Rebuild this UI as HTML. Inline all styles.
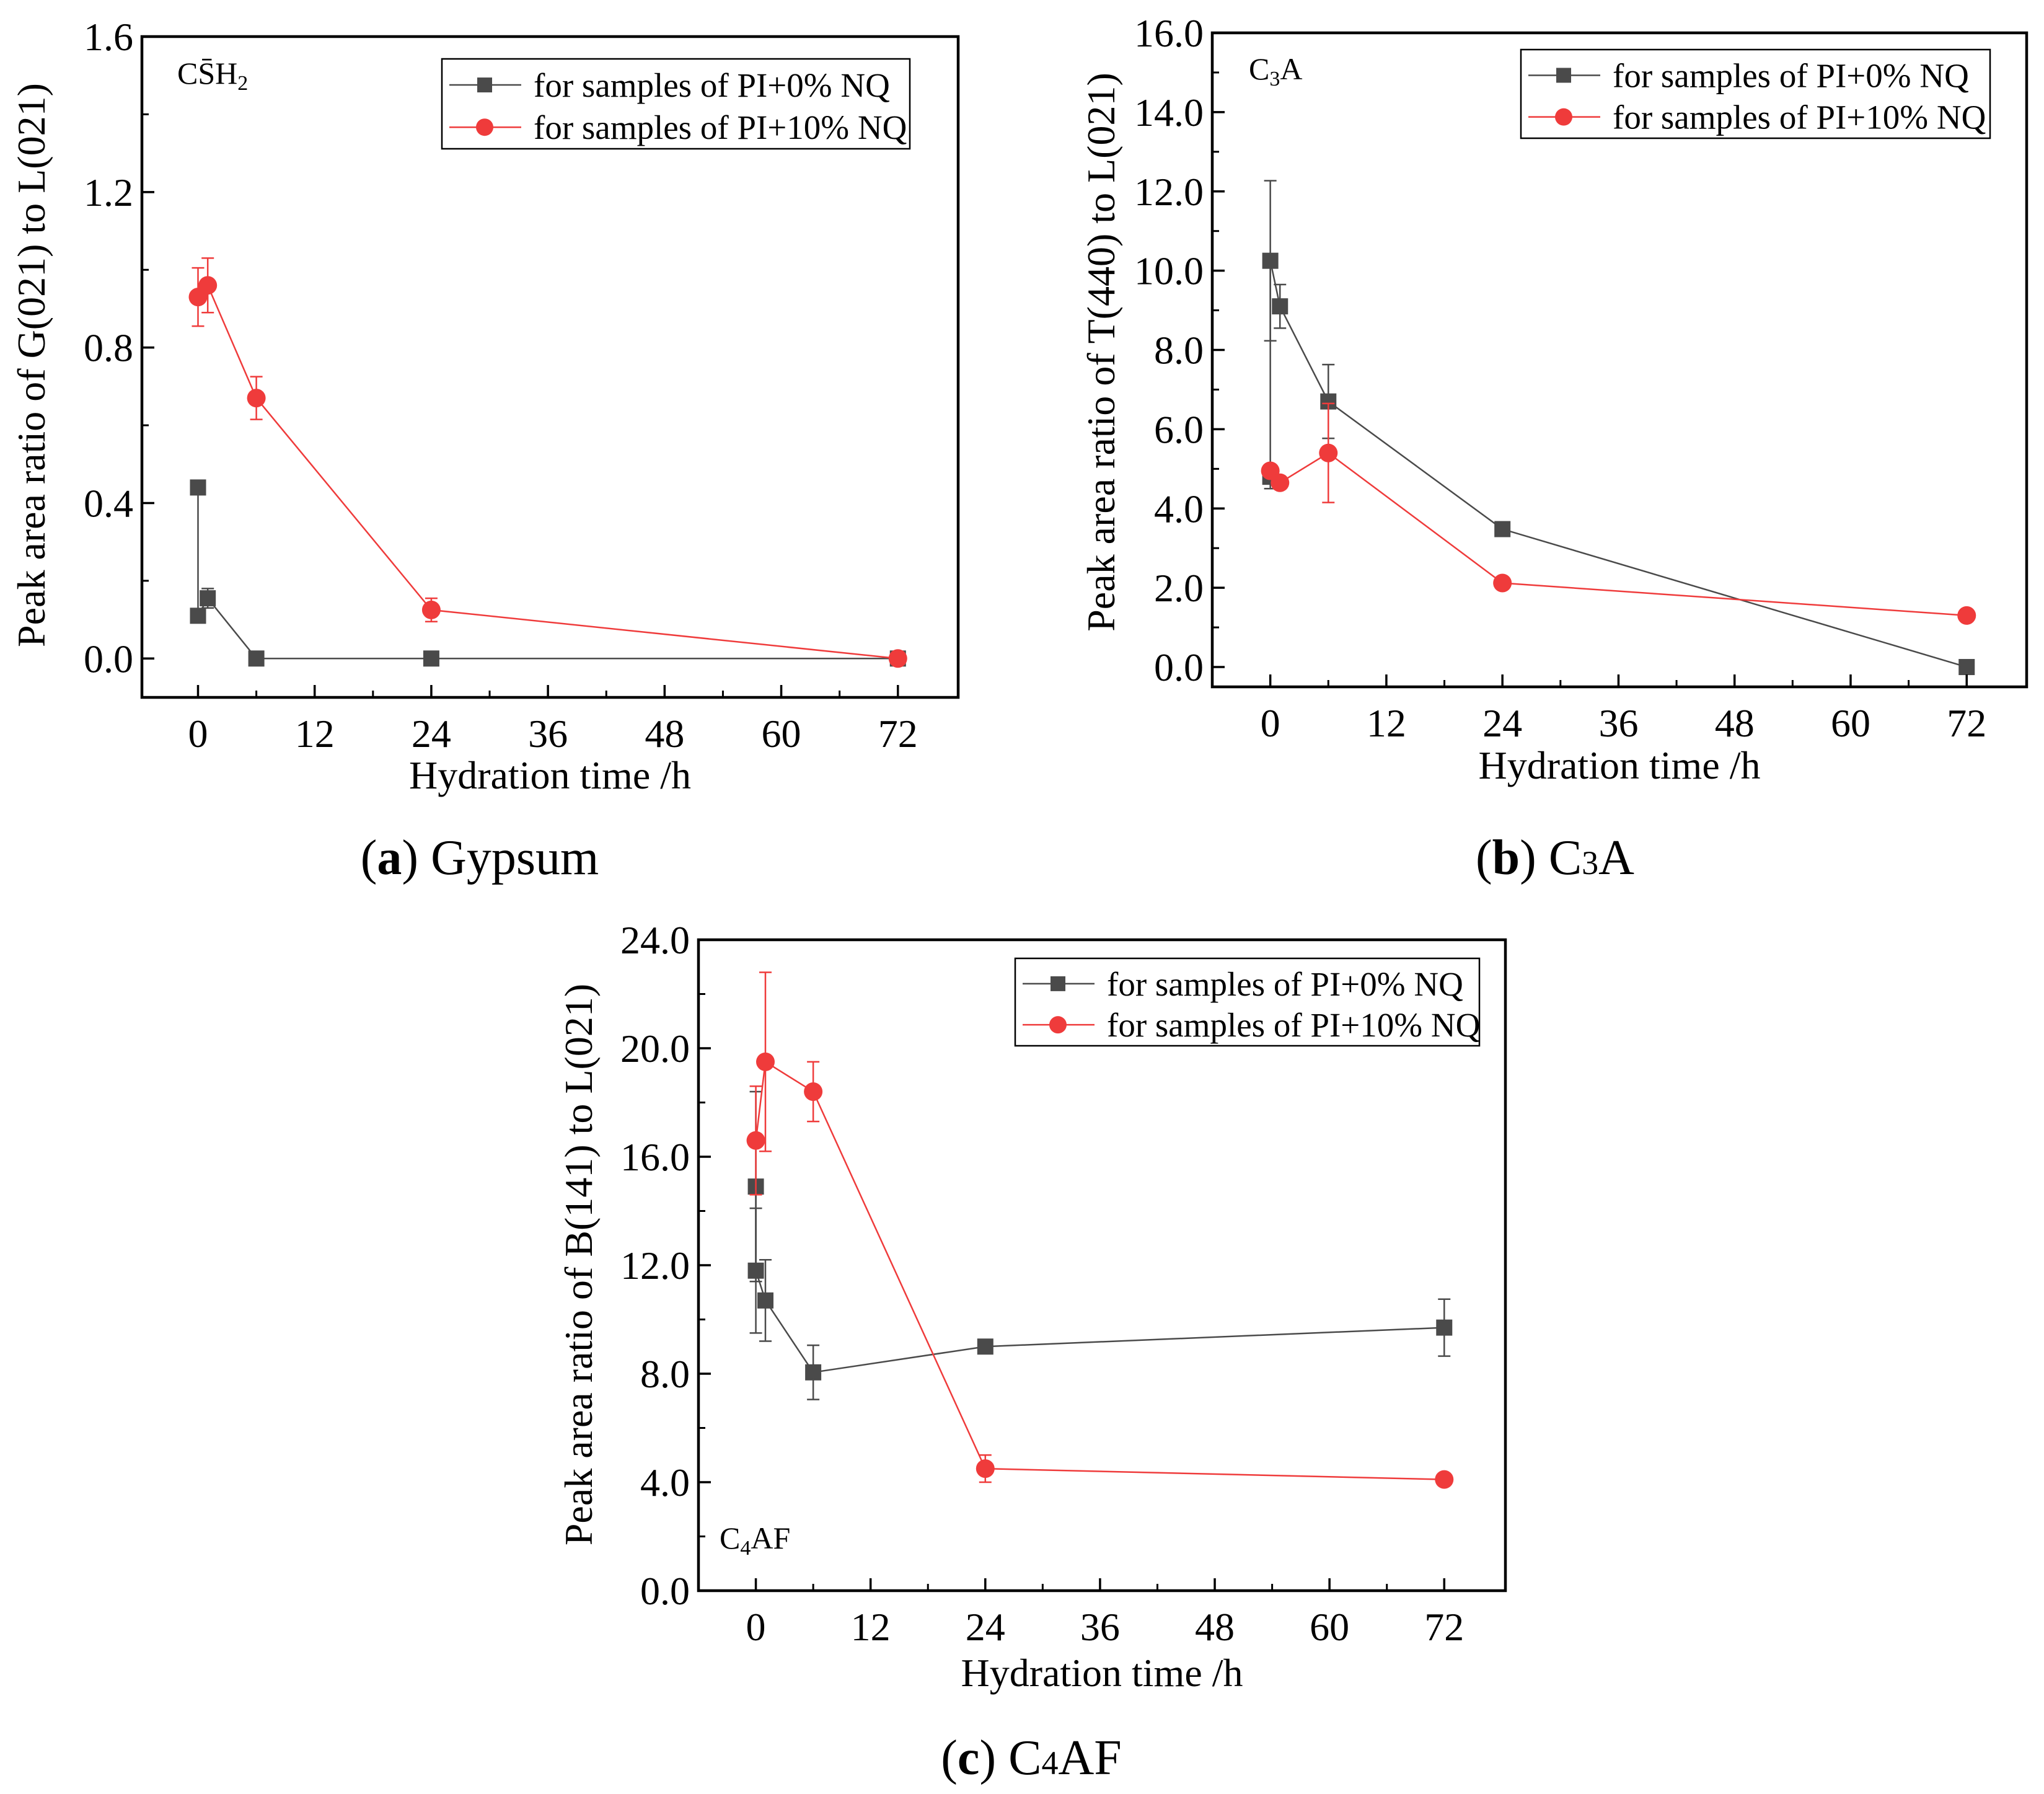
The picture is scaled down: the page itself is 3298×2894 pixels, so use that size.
<!DOCTYPE html>
<html><head><meta charset="utf-8"><style>
html,body{margin:0;padding:0;background:#fff}
svg{display:block}
svg text{font-family:"Liberation Serif","DejaVu Serif",serif}
</style></head><body>
<svg id="fig" width="3298" height="2894" viewBox="0 0 3298 2894" xmlns="http://www.w3.org/2000/svg" font-family="Liberation Serif, serif"></svg>
<script>
// ---- Shared x data ----
const xTicks = [0, 12, 24, 36, 48, 60, 72];
// ---- Panel (a) Gypsum ----
const aBlackX = [0, 0, 1, 6, 24, 72];
const aBlackY = [0.44, 0.11, 0.155, 0, 0, 0];
const aBlackE = [0, 0.015, 0.025, 0, 0, 0];
const aRedX = [0, 1, 6, 24, 72];
const aRedY = [0.93, 0.96, 0.67, 0.125, 0];
const aRedE = [0.075, 0.07, 0.055, 0.03, 0];
const aYTicks = [0.0, 0.4, 0.8, 1.2, 1.6];
const aYLabels = ["0.0", "0.4", "0.8", "1.2", "1.6"];
// ---- Panel (b) C3A ----
const bBlackX = [0, 0, 1, 6, 24, 72];
const bBlackY = [4.8, 10.25, 9.1, 6.7, 3.48, 0];
const bBlackE = [0.3, 2.02, 0.55, 0.93, 0, 0];
const bRedX = [0, 1, 6, 24, 72];
const bRedY = [4.95, 4.65, 5.4, 2.12, 1.3];
const bRedE = [0.15, 0, 1.25, 0, 0];
const bYTicks = [0, 2, 4, 6, 8, 10, 12, 14, 16];
const bYLabels = ["0.0", "2.0", "4.0", "6.0", "8.0", "10.0", "12.0", "14.0", "16.0"];
// ---- Panel (c) C4AF ----
const cBlackX = [0, 0, 1, 6, 24, 72];
const cBlackY = [14.9, 11.8, 10.7, 8.05, 9.0, 9.7];
const cBlackE = [3.5, 2.3, 1.5, 1.0, 0, 1.05];
const cRedX = [0, 1, 6, 24, 72];
const cRedY = [16.6, 19.5, 18.4, 4.5, 4.1];
const cRedE = [2.0, 3.3, 1.1, 0.5, 0];
const cYTicks = [0, 4, 8, 12, 16, 20, 24];
const cYLabels = ["0.0", "4.0", "8.0", "12.0", "16.0", "20.0", "24.0"];

const NS = "http://www.w3.org/2000/svg";
const svg = document.getElementById("fig");
const BLACK = "#4a4a4a", RED = "#ef3b3b";
const FONT = '"Liberation Serif", "DejaVu Serif", serif';
function mk(tag, attrs, parent, text) {
  const e = document.createElementNS(NS, tag);
  for (const k in attrs) e.setAttribute(k, attrs[k]);
  if (tag === "text") e.setAttribute("style", "font-family:" + FONT);
  if (text !== undefined) e.textContent = text;
  (parent || svg).appendChild(e);
  return e;
}

function panel(id, box, xr, yr, yTicks, yLabels, minorY, series, legend, note, ytitle, xtitleY, caption) {
  const g = mk("g", {});
  
  
  const X = v => box.l + (v - xr[0]) / (xr[1] - xr[0]) * (box.r - box.l);
  const Y = v => box.b - (v - yr[0]) / (yr[1] - yr[0]) * (box.b - box.t);
  series.forEach(s => {
    const sg = mk("g", {}, g);
    
    
    let d = "";
    s.x.forEach((xv, i) => { d += (i ? "L" : "M") + X(xv) + "," + Y(s.y[i]); });
    mk("path", {d: d, fill: "none", stroke: s.color, "stroke-width": 2.5}, sg);
    s.x.forEach((xv, i) => {
      const e = s.e[i];
      if (e > 0) {
        const cx = X(xv), y1 = Y(s.y[i] + e), y2 = Y(s.y[i] - e);
        const eb = mk("path", {d: `M${cx},${y1}L${cx},${y2}M${cx - 10},${y1}L${cx + 10},${y1}M${cx - 10},${y2}L${cx + 10},${y2}`, stroke: s.color, "stroke-width": 2.5, fill: "none"}, sg);
        
        
      }
    });
    s.x.forEach((xv, i) => {
      let m;
      if (s.shape === "sq") m = mk("rect", {x: X(xv) - 13, y: Y(s.y[i]) - 13, width: 26, height: 26, fill: s.color}, sg);
      else m = mk("circle", {cx: X(xv), cy: Y(s.y[i]), r: 15, fill: s.color}, sg);
      
      
    });
  });
  const fr = mk("rect", {x: box.l, y: box.t, width: box.r - box.l, height: box.b - box.t, fill: "none", stroke: "#000", "stroke-width": 4.5}, g);
  
  
  xTicks.forEach(t => {
    mk("line", {x1: X(t), x2: X(t), y1: box.b, y2: box.b - 20, stroke: "#000", "stroke-width": 3.5}, g);
    const tl = mk("text", {x: X(t), y: box.b + 80, "font-size": 64, "text-anchor": "middle"}, g, String(t));
    
    
  });
  for (let t = 6; t < 72; t += 12) mk("line", {x1: X(t), x2: X(t), y1: box.b, y2: box.b - 11, stroke: "#000", "stroke-width": 3}, g);
  yTicks.forEach((t, i) => {
    mk("line", {x1: box.l, x2: box.l + 20, y1: Y(t), y2: Y(t), stroke: "#000", "stroke-width": 3.5}, g);
    const tl = mk("text", {x: box.l - 14, y: Y(t) + 22, "font-size": 64, "text-anchor": "end"}, g, yLabels[i]);
    
    
  });
  for (let t = yTicks[0] + minorY; t < yTicks[yTicks.length - 1]; t += 2 * minorY)
    mk("line", {x1: box.l, x2: box.l + 11, y1: Y(t), y2: Y(t), stroke: "#000", "stroke-width": 3}, g);
  const xt = mk("text", {x: (box.l + box.r) / 2, y: xtitleY, "font-size": 64, "text-anchor": "middle"}, g, "Hydration time /h");
  
  
  const yt = mk("text", {x: 0, y: 0, "font-size": 64, "text-anchor": "middle", transform: `translate(${ytitle.x},${ytitle.y}) rotate(-90)`}, g, ytitle.text);
  
  
  const lg = mk("g", {}, g);
  
  
  mk("rect", {x: legend.l, y: legend.t, width: legend.w, height: legend.h, fill: "#fff", stroke: "#000", "stroke-width": 2.5}, lg);
  const rows = [legend.t + legend.h * 0.29, legend.t + legend.h * 0.76];
  const labels = ["for samples of PI+0% NQ", "for samples of PI+10% NQ"];
  [BLACK, RED].forEach((c, i) => {
    const le = mk("g", {}, lg);
    
    
    mk("line", {x1: legend.l + 12, x2: legend.l + 128, y1: rows[i], y2: rows[i], stroke: c, "stroke-width": 2.5}, le);
    if (i === 0) mk("rect", {x: legend.l + 57, y: rows[i] - 12, width: 24, height: 24, fill: c}, le);
    else mk("circle", {cx: legend.l + 69, cy: rows[i], r: 14, fill: c}, le);
    mk("text", {x: legend.l + 148, y: rows[i] + 19, "font-size": 55}, le, labels[i]);
  });
  const nt = mk("text", {x: note.x, y: note.y, "font-size": 50}, g);
  
  
  nt.innerHTML = note.html;
  const cp = mk("text", {x: caption.x, y: caption.y, "font-size": 80, "text-anchor": "middle"}, g);
  
  
  cp.innerHTML = caption.html;
}

panel("gypsum", {l: 229, r: 1546, t: 59, b: 1125}, [-5.77, 78.2], [-0.1, 1.6], aYTicks, aYLabels, 0.2,
  [{name: "pi-0", x: aBlackX, y: aBlackY, e: aBlackE, color: BLACK, shape: "sq"},
   {name: "pi-10", x: aRedX, y: aRedY, e: aRedE, color: RED, shape: "ci"}],
  {l: 713, t: 95, w: 755, h: 145},
  {x: 286, y: 135, html: 'CS̄H<tspan font-size="34" dy="10">2</tspan>'},
  {x: 72, y: 589, text: "Peak area ratio of G(021) to L(021)"}, 1272,
  {x: 774, y: 1410, html: '(<tspan font-weight="bold">a</tspan>) Gypsum'});

panel("c3a", {l: 1956, r: 3270, t: 53, b: 1108}, [-6, 78.2], [-0.5, 16], bYTicks, bYLabels, 1,
  [{name: "pi-0", x: bBlackX, y: bBlackY, e: bBlackE, color: BLACK, shape: "sq"},
   {name: "pi-10", x: bRedX, y: bRedY, e: bRedE, color: RED, shape: "ci"}],
  {l: 2454, t: 80, w: 757, h: 143},
  {x: 2015, y: 128, html: 'C<tspan font-size="34" dy="10">3</tspan><tspan dy="-10">A</tspan>'},
  {x: 1798, y: 568, text: "Peak area ratio of T(440) to L(021)"}, 1256,
  {x: 2509, y: 1410, html: '(<tspan font-weight="bold">b</tspan>) C<tspan font-size="54">3</tspan>A'});

panel("c4af", {l: 1127, r: 2429, t: 1516, b: 2566}, [-6, 78.4], [0, 24], cYTicks, cYLabels, 2,
  [{name: "pi-0", x: cBlackX, y: cBlackY, e: cBlackE, color: BLACK, shape: "sq"},
   {name: "pi-10", x: cRedX, y: cRedY, e: cRedE, color: RED, shape: "ci"}],
  {l: 1638, t: 1546, w: 749, h: 141},
  {x: 1161, y: 2498, html: 'C<tspan font-size="34" dy="10">4</tspan><tspan dy="-10">AF</tspan>'},
  {x: 955, y: 2040, text: "Peak area ratio of B(141) to L(021)"}, 2720,
  {x: 1664, y: 2862, html: '(<tspan font-weight="bold">c</tspan>) C<tspan font-size="54">4</tspan>AF'});
</script>
</body></html>
